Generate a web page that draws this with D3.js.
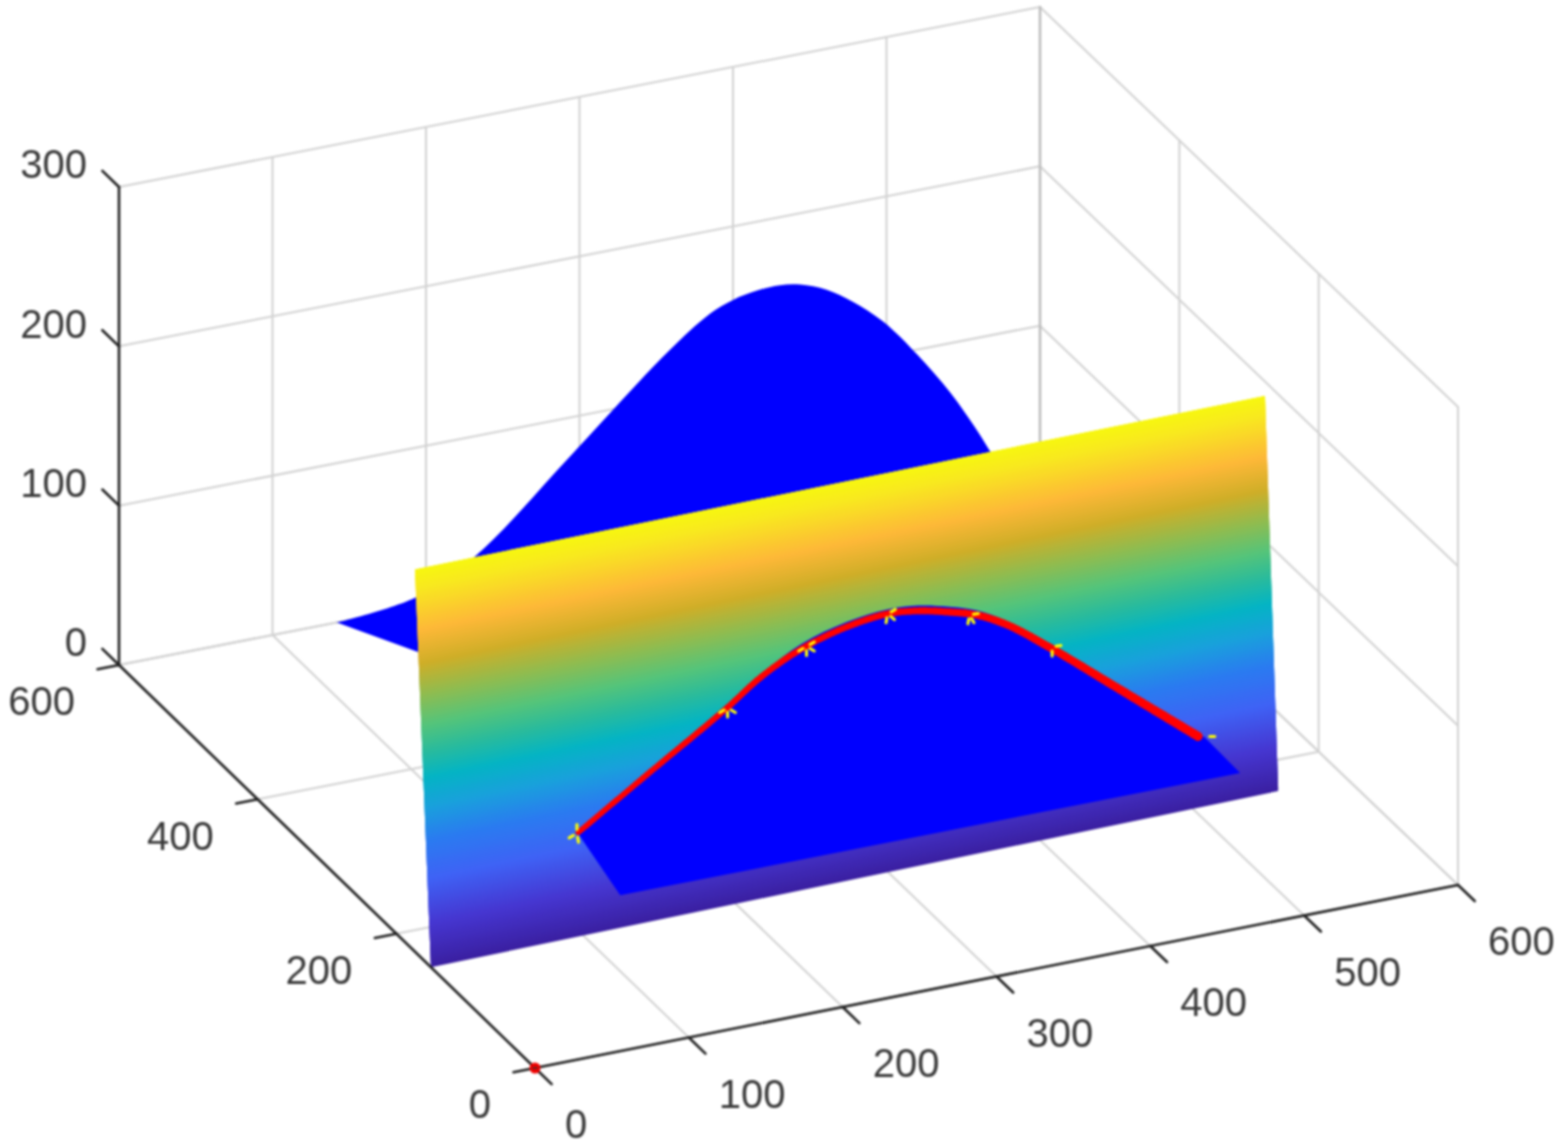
<!DOCTYPE html>
<html>
<head>
<meta charset="utf-8">
<style>
  html, body { margin: 0; background: #fff; }
  svg { display: block; filter: blur(0.8px); }
  text { font-family: "Liberation Sans", Arial, sans-serif; font-size: 40px; fill: #3a3a3a; }
</style>
<script src="https://cdn.jsdelivr.net/npm/d3@7"></script>
</head>
<body>
<svg id="chart" width="1562" height="1148"></svg>
<script>
// tick values
const xTicks = [0, 100, 200, 300, 400, 500, 600];
const yTicks = [0, 200, 400, 600];
const zTicks = [0, 100, 200, 300];

// blue bell shape at the back, the last point sits on the floor behind the wall
const bellX = [142, 194, 233, 293.8, 357, 385, 400, 415.7, 430.7, 443.7, 461, 478, 497.8, 520, 541.5, 559, 568.8, 580, 173];
const bellY = [600, 600, 600, 600, 600, 600, 600, 600, 600, 600, 600, 600, 600, 600, 600, 600, 600, 600, 536];
const bellZ = [0, 6.2, 25.2, 75.6, 128.8, 148, 153.8, 156.7, 157.3, 155.2, 148.7, 138, 121.8, 96.9, 69, 41.9, 25, 7, 0];

// tilted wall, corner values
const wallXMax = 556;
const wallZMax = 240;
const wallYBottom = [150, 161];
const wallYTop = [173, 180];

// wall colours by height
const wallZStops = [0, 26, 53, 77, 96, 114, 130, 146, 164, 183, 203, 228, 240];
const wallColors = ['#3a1fa0', '#4636d0', '#3f62f5', '#2a7cf0', '#1aa0dc', '#04b4c4', '#2abb9c', '#55c47a', '#8fbc50', '#cfae28', '#fdb838', '#f8e820', '#f7f70f'];

// blue shape on the wall, the last two points are its lower corners
const shapeX = [99, 147, 198, 222.6, 249.3, 279, 305.8, 326, 346, 363.5, 383.5, 412, 454.4, 509, 531.6, 125];
const shapeZ = [62, 90, 119, 135, 148, 155.5, 158, 156.5, 152, 146.5, 136, 115.5, 83, 42, 15.6, 19.5];

// red curve
const curveX = [99.3, 147, 198, 222.6, 249.3, 279.3, 305.8, 326, 346, 363.5, 383.5, 412, 454.4, 505];
const curveZ = [62.4, 89.4, 118, 133.3, 145, 152.6, 155.3, 153.3, 148.8, 143.7, 133.8, 113.9, 81.6, 43];

// yellow markers and which spokes of each one show
const markerX = [98.4, 199.5, 252.3, 305.8, 359, 412, 510];
const markerZ = [62, 118.5, 145.7, 155.3, 144.5, 115, 42];
const markerSpokes = [[150, 80, -90], [150, 90, 30], [150, 90, 30, -30], [100, 40, -30], [100, 60, -10], [-10, 90], [0]];

// projection
const originX = 535, originY = 1068;
const xToH = d3.scaleLinear().domain([0, 600]).range([0, 923]);
const yToH = d3.scaleLinear().domain([0, 600]).range([0, -416]);
const xToV = d3.scaleLinear().domain([0, 600]).range([0, -183]);
const yToV = d3.scaleLinear().domain([0, 600]).range([0, -403]);
const zToV = d3.scaleLinear().domain([0, 300]).range([0, -478]);

function project(x, y, z) {
    // the back corner sits a little in from a true parallelogram
    let back = (x / 600) * (y / 600);
    return [originX + xToH(x) + yToH(y) - 2 * back, originY + xToV(x) + yToV(y) + zToV(z) + 3 * back];
}

// y of a point lying on the wall
const wallBottom = d3.scaleLinear().domain([0, wallXMax]).range(wallYBottom);
const wallTop = d3.scaleLinear().domain([0, wallXMax]).range(wallYTop);
function onWall(x, z) {
    let t = z / wallZMax;
    return project(x, wallBottom(x) * (1 - t) + wallTop(x) * t, z);
}

const svg = d3.select('#chart');
const lineGen = d3.line();
const smoothGen = d3.line().curve(d3.curveCatmullRom.alpha(0.5));
const wallColor = d3.scaleLinear().domain(wallZStops).range(wallColors);

function seg(parent, a, b, color, width) {
    parent.append('line')
        .attr('x1', a[0]).attr('y1', a[1])
        .attr('x2', b[0]).attr('y2', b[1])
        .attr('stroke', color)
        .attr('stroke-width', width)
        .attr('stroke-linecap', 'round');
}

// grid
const grid = svg.append('g');
const gridColor = '#d2d2d2';
xTicks.forEach(x => {
    seg(grid, project(x, 0, 0), project(x, 600, 0), gridColor, 2);
    if (x > 0) seg(grid, project(x, 600, 0), project(x, 600, 300), gridColor, 2);
});
yTicks.forEach(y => {
    seg(grid, project(0, y, 0), project(600, y, 0), gridColor, 2);
    seg(grid, project(600, y, 0), project(600, y, 300), gridColor, 2);
});
zTicks.forEach(z => {
    seg(grid, project(0, 600, z), project(600, 600, z), gridColor, 2);
    seg(grid, project(600, 600, z), project(600, 0, z), gridColor, 2);
});
seg(grid, project(600, 600, 0), project(600, 600, 300), '#bcbcbc', 2.5);

// bell behind the wall
let bellPts = bellX.map((x, i) => project(x, bellY[i], bellZ[i]));
svg.append('path')
    .attr('d', smoothGen(bellPts.slice(0, -1)) + 'L' + bellPts[bellPts.length - 1].join(',') + 'Z')
    .attr('fill', '#0000ff');

// wall, thin bands painted upward so each one covers the seam below it
const bandZ = d3.range(0, wallZMax, 1);
svg.append('g').selectAll('path')
    .data(bandZ)
    .join('path')
    .attr('d', z => lineGen([onWall(0, z), onWall(wallXMax, z), onWall(wallXMax, Math.min(z + 3, wallZMax)), onWall(0, Math.min(z + 3, wallZMax))]) + 'Z')
    .attr('fill', z => wallColor(z + 0.5));

// shape on the wall
let shapePts = shapeX.map((x, i) => onWall(x, shapeZ[i]));
svg.append('path')
    .attr('d', smoothGen(shapePts.slice(0, 14)) + 'L' + shapePts[14].join(',') + 'L' + shapePts[15].join(',') + 'Z')
    .attr('fill', '#0000ff');

// red curve gets thicker to the right, so walk along it in short pieces
const curveG = svg.append('g');
const curveGuide = curveG.append('path').attr('d', smoothGen(curveX.map((x, i) => onWall(x, curveZ[i]))));
const guideLen = curveGuide.node().getTotalLength();
const curveWidth = d3.scaleLinear().domain([0, 0.5, 1]).range([5.5, 6.5, 9]);
d3.range(0, guideLen, 5).forEach(s => {
    let a = curveGuide.node().getPointAtLength(s);
    let b = curveGuide.node().getPointAtLength(Math.min(s + 5, guideLen));
    seg(curveG, [a.x, a.y], [b.x, b.y], '#ff0000', curveWidth(s / guideLen));
});
curveGuide.remove();

// yellow marker spokes
const markerG = svg.append('g');
markerX.forEach((x, i) => {
    let c = onWall(x, markerZ[i]);
    markerSpokes[i].forEach(deg => {
        let a = deg * Math.PI / 180;
        seg(markerG, [c[0] + 4 * Math.cos(a), c[1] + 4 * Math.sin(a)],
            [c[0] + 9 * Math.cos(a), c[1] + 9 * Math.sin(a)], '#ffff00', 3);
    });
});

// axes
const axisColor = '#222';
const axisWidth = 2.6;
const axes = svg.append('g');
seg(axes, project(0, 0, 0), project(600, 0, 0), axisColor, axisWidth);
seg(axes, project(0, 0, 0), project(0, 600, 0), axisColor, axisWidth);
seg(axes, project(0, 600, 0), project(0, 600, 300), axisColor, axisWidth);

xTicks.forEach(x => {
    let p = project(x, 0, 0);
    seg(axes, p, project(x, -24, 0), axisColor, axisWidth);
    axes.append('text').attr('x', p[0] + 30).attr('y', p[1] + 56)
        .attr('dy', '0.36em').attr('text-anchor', 'start').text(x);
});
yTicks.forEach(y => {
    let p = project(0, y, 0);
    seg(axes, p, project(-14, y, 0), axisColor, axisWidth);
    axes.append('text').attr('x', p[0] - 44).attr('y', p[1] + 36)
        .attr('dy', '0.36em').attr('text-anchor', 'end').text(y);
});
zTicks.forEach(z => {
    let p = project(0, 600, z);
    seg(axes, p, project(0, 624, z), axisColor, axisWidth);
    axes.append('text').attr('x', p[0] - 32).attr('y', p[1] - 23)
        .attr('dy', '0.36em').attr('text-anchor', 'end').text(z);
});

// red dot at the origin
let o = project(0, 0, 0);
svg.append('circle').attr('cx', o[0]).attr('cy', o[1]).attr('r', 5.5).attr('fill', '#ee0000');
seg(svg, [o[0] - 2, o[1]], [o[0] + 2, o[1]], '#333', 1.5);
</script>
</body>
</html>
